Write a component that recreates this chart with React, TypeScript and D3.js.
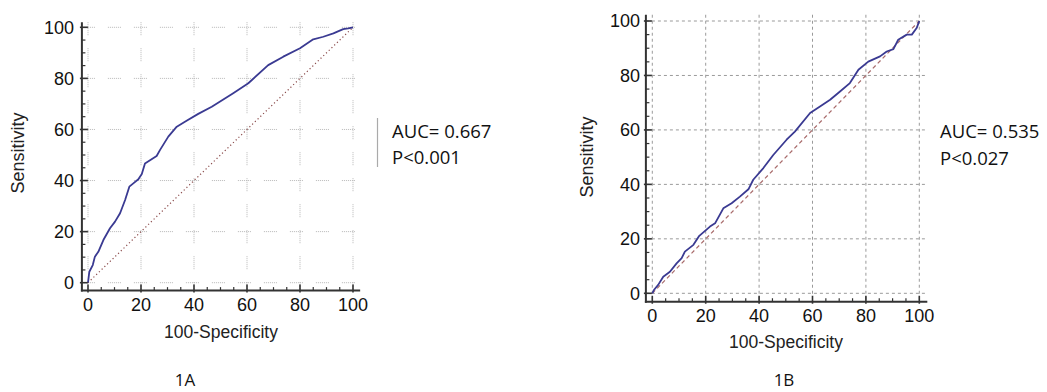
import React from "react";
import * as d3 from "d3";

// ---------- data ----------
const A_fpr = [0, 0.5, 1.8, 2.6, 3.9, 5.8, 8.3, 10.2, 12.1, 14, 15.6, 17.1, 19, 20.3, 21.5, 25.9, 27.2, 30.3, 33.5, 37.2, 41.6, 46.7, 54.8, 60.5, 68, 73.7, 80, 85, 88.8, 92.6, 96.3, 98.2, 100];
const A_tpr = [0, 4.3, 6.9, 10.2, 12.1, 16.7, 21.3, 23.9, 27.2, 32.4, 37.6, 38.9, 40.5, 42.6, 46.7, 49.6, 52, 57.2, 61.1, 63.4, 66.1, 68.9, 74.2, 78.1, 85.2, 88.5, 91.8, 95.3, 96.3, 97.6, 99.3, 99.6, 100];

const B_fpr = [0, 0.6, 2.2, 4.1, 6.6, 9.1, 11, 12.2, 15.4, 17.6, 21.6, 23.5, 26.6, 29.7, 32.8, 36, 37.8, 41.6, 45.3, 50.3, 53.4, 59.1, 62.8, 66.6, 70.3, 74, 77.2, 80.9, 85.3, 87.8, 90.3, 92.1, 95.3, 97.2, 99, 100];
const B_tpr = [0, 1.2, 3.1, 6.1, 7.9, 11, 12.9, 15.3, 17.8, 21.1, 24.5, 25.7, 31.2, 33.1, 35.5, 38.2, 41.7, 46, 50.8, 56.4, 59.4, 66.2, 68.6, 71.1, 74.1, 77.2, 82.1, 85.1, 87, 88.8, 89.7, 93.1, 95, 95, 97.4, 100];

const majorTicks = [0, 20, 40, 60, 80, 100];
const minorTicks = [5, 10, 15, 25, 30, 35, 45, 50, 55, 65, 70, 75, 85, 90, 95];
const xTitle = "100-Specificity";
const yTitle = "Sensitivity";
const A_stats = ["AUC= 0.667", "P<0.001"];
const B_stats = ["AUC= 0.535", "P<0.027"];
const panelLabels = ["1A", "1B"];

type PanelCfg = {
  fpr: number[];
  tpr: number[];
  xr: [number, number];
  yr: [number, number];
  axisMin: number;
  axisMinX: number;
  axisMax: number;
  gridDash: string;
  gridColor: string;
  gridWidth: number;
  diagDash: string;
  diagColor: string;
  xLabelY: number;
  yLabelX: number;
  yTitleX: number;
  yTitleY: number;
  xTitleX: number;
  xTitleY: number;
};

const TICKFONT = "'Liberation Sans', Arial, sans-serif";

function Panel({ c }: { c: PanelCfg }) {
  const xs = d3.scaleLinear().domain([0, 100]).range(c.xr);
  const ys = d3.scaleLinear().domain([0, 100]).range(c.yr);
  const pts = c.fpr.map((f, i) => [f, c.tpr[i]] as [number, number]);
  const line = d3
    .line<[number, number]>()
    .x((d) => xs(d[0]))
    .y((d) => ys(d[1]));
  const axX = xs(c.axisMin); // y-axis position
  const axY = ys(c.axisMinX); // x-axis position
  const top = ys(c.axisMax);
  const right = xs(c.axisMax + 0.7);
  return (
    <g>
      {/* grid */}
      {majorTicks.map((t) => (
        <line key={"gx" + t} x1={xs(t)} x2={xs(t)} y1={top} y2={axY} stroke={c.gridColor} strokeWidth={c.gridWidth} strokeDasharray={c.gridDash} />
      ))}
      {majorTicks.map((t) => (
        <line key={"gy" + t} x1={axX} x2={right} y1={ys(t)} y2={ys(t)} stroke={c.gridColor} strokeWidth={c.gridWidth} strokeDasharray={c.gridDash} />
      ))}
      {/* diagonal */}
      <line x1={xs(0)} y1={ys(0)} x2={xs(100)} y2={ys(100)} stroke={c.diagColor} strokeWidth={1.2} strokeDasharray={c.diagDash} />
      {/* ROC curve */}
      <path d={line(pts) || ""} fill="none" stroke="#3a3a92" strokeWidth={1.8} strokeLinejoin="round" />
      {/* axes */}
      <line x1={axX} x2={axX} y1={top} y2={axY + 1} stroke="#333" strokeWidth={2} />
      <line x1={axX - 1} x2={right} y1={axY} y2={axY} stroke="#333" strokeWidth={2} />
      {majorTicks.map((t) => (
        <line key={"my" + t} x1={axX - 2} x2={axX + 6} y1={ys(t)} y2={ys(t)} stroke="#333" strokeWidth={1.6} />
      ))}
      {minorTicks.map((t) => (
        <line key={"ny" + t} x1={axX} x2={axX + 3.5} y1={ys(t)} y2={ys(t)} stroke="#333" strokeWidth={1.2} />
      ))}
      {majorTicks.map((t) => (
        <line key={"mx" + t} x1={xs(t)} x2={xs(t)} y1={axY + 2} y2={axY - 6} stroke="#333" strokeWidth={1.6} />
      ))}
      {minorTicks.map((t) => (
        <line key={"nx" + t} x1={xs(t)} x2={xs(t)} y1={axY} y2={axY - 3.5} stroke="#333" strokeWidth={1.2} />
      ))}
      {/* tick labels */}
      {majorTicks.map((t) => (
        <text key={"ly" + t} x={c.yLabelX} y={ys(t)} dy="0.35em" textAnchor="end" fontFamily={TICKFONT} fontSize={18} fill="#111">
          {t}
        </text>
      ))}
      {majorTicks.map((t) => (
        <text key={"lx" + t} x={xs(t)} y={c.xLabelY} textAnchor="middle" fontFamily={TICKFONT} fontSize={18} fill="#111">
          {t}
        </text>
      ))}
      {/* titles */}
      <text x={c.xTitleX} y={c.xTitleY} textAnchor="middle" fontFamily={TICKFONT} fontSize={17.5} fill="#222">
        {xTitle}
      </text>
      <text
        transform={`translate(${c.yTitleX},${c.yTitleY}) rotate(-90)`}
        textAnchor="middle"
        dy="0.35em"
        fontFamily={TICKFONT}
        fontSize={18}
        fill="#222"
      >
        {yTitle}
      </text>
    </g>
  );
}

const panelA: PanelCfg = {
  fpr: A_fpr,
  tpr: A_tpr,
  xr: [88, 353],
  yr: [282.7, 27.3],
  axisMin: -2.3,
  axisMinX: -3.1,
  axisMax: 102,
  gridDash: "1,1,1,1,1,1,1,1,1,1,1,1,1,13",
  gridColor: "#b8b8b8",
  gridWidth: 1,
  diagDash: "1.2,2.6",
  diagColor: "#8a4a4a",
  xLabelY: 311,
  yLabelX: 74,
  yTitleX: 18,
  yTitleY: 153,
  xTitleX: 221,
  xTitleY: 338,
};

const panelB: PanelCfg = {
  fpr: B_fpr,
  tpr: B_tpr,
  xr: [652.3, 919.3],
  yr: [293.3, 21],
  axisMin: -2.4,
  axisMinX: -3.1,
  axisMax: 102.3,
  gridDash: "3,3",
  gridColor: "#9a9a9a",
  gridWidth: 1,
  diagDash: "4,3",
  diagColor: "#a86a6a",
  xLabelY: 322,
  yLabelX: 640,
  yTitleX: 587,
  yTitleY: 157,
  xTitleX: 786,
  xTitleY: 348,
};

const STATFONT = "'Open Sans', 'Noto Sans', sans-serif";

export default function App() {
  return (
    <svg width={1047} height={392} style={{ position: "absolute", left: 0, top: 0, background: "#fff" }}>
      <rect x={0} y={0} width={1047} height={392} fill="#fff" />
      <Panel c={panelA} />
      <Panel c={panelB} />
      {/* stats A */}
      <line x1={377.5} x2={377.5} y1={118} y2={167} stroke="#aaa" strokeWidth={1.2} />
      {A_stats.map((s, i) => (
        <text key={s} x={392} y={138 + i * 26} fontFamily={STATFONT} fontSize={18.5} fill="#111">
          {s}
        </text>
      ))}
      {B_stats.map((s, i) => (
        <text key={s} x={940} y={138 + i * 27} fontFamily={STATFONT} fontSize={18.5} fill="#111">
          {s}
        </text>
      ))}
      <text x={185} y={386} textAnchor="middle" fontFamily={STATFONT} fontSize={17} fill="#111">
        {panelLabels[0]}
      </text>
      <text x={784} y={386} textAnchor="middle" fontFamily={STATFONT} fontSize={17} fill="#111">
        {panelLabels[1]}
      </text>
    </svg>
  );
}
